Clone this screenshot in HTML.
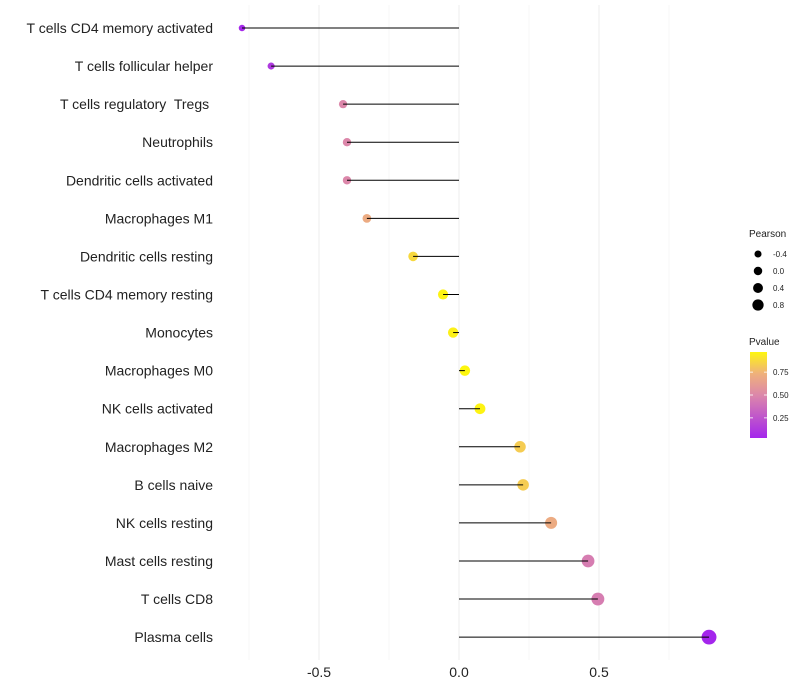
<!DOCTYPE html>
<html><head><meta charset="utf-8"><style>body{margin:0;background:#fff}svg{display:block;font-family:"Liberation Sans",sans-serif}text{white-space:pre}</style></head>
<body>
<svg id="chart" width="800" height="700"></svg>
<script>
const categories=["T cells CD4 memory activated","T cells follicular helper","T cells regulatory  Tregs ","Neutrophils","Dendritic cells activated","Macrophages M1","Dendritic cells resting","T cells CD4 memory resting","Monocytes","Macrophages M0","NK cells activated","Macrophages M2","B cells naive","NK cells resting","Mast cells resting","T cells CD8","Plasma cells"];
const pearson=[-0.775,-0.671,-0.414,-0.4,-0.4,-0.329,-0.164,-0.057,-0.021,0.021,0.075,0.218,0.229,0.329,0.461,0.496,0.893];
const pvalues=[0.04,0.12,0.5,0.5,0.5,0.7,0.87,0.96,0.95,0.97,0.96,0.83,0.83,0.7,0.45,0.45,0.03];
const xTicks=[-0.5,0,0.5];
const xMinor=[-0.75,-0.25,0.25,0.75];
const sizeLegend=[-0.4,0,0.4,0.8];
const pLegend=[0.25,0.5,0.75];
const NS="http://www.w3.org/2000/svg";
const svg=document.getElementById('chart');
const xs=v=>459+280*v;
const ys=i=>28+i*38.07;
const rs=v=>5.2+2.5*v;
const stops=[[0,[160,32,240]],[0.5,[220,135,170]],[0.75,[240,180,120]],[1,[255,255,0]]];
function col(p){let a=stops[0],b=stops[1];for(let k=0;k<stops.length-1;k++){if(p>=stops[k][0]){a=stops[k];b=stops[k+1];}}const t=Math.min(1,Math.max(0,(p-a[0])/(b[0]-a[0])));return 'rgb('+a[1].map((c,k)=>Math.round(c+(b[1][k]-c)*t)).join(',')+')';}
function el(t,at){const e=document.createElementNS(NS,t);for(const k in at)e.setAttribute(k,at[k]);svg.appendChild(e);return e;}
xMinor.forEach(v=>{const g=el('line',{x1:xs(v),x2:xs(v),y1:5,y2:660,stroke:'#f7f7f7','stroke-width':1});

});
xTicks.forEach(v=>{const g=el('line',{x1:xs(v),x2:xs(v),y1:5,y2:660,stroke:'#f0f0f0','stroke-width':1.2});


const t=el('text',{x:xs(v),y:677,'text-anchor':'middle','font-size':14,fill:'#222'});t.textContent=v===0?'0.0':String(v);

});
categories.forEach((c,i)=>{const y=ys(i);
const t=el('text',{x:213,y:y+5,'text-anchor':'end','font-size':14,fill:'#222'});t.textContent=c;


const p=el('circle',{cx:xs(pearson[i]),cy:y,r:Math.max(2,rs(pearson[i])),fill:col(pvalues[i])});


const l=el('line',{x1:xs(0),x2:xs(pearson[i]),y1:y,y2:y,stroke:'#000','stroke-width':1});

});
const lt=el('text',{x:749,y:237,'font-size':10,fill:'#222'});lt.textContent='Pearson';


sizeLegend.forEach((v,i)=>{const y=254+i*17;
const c=el('circle',{cx:758,cy:y,r:rs(v)*0.7+0.6,fill:'#000'});


const t=el('text',{x:773,y:y+3,'font-size':8,fill:'#222'});t.textContent=v===0?'0.0':String(v);

});
const pt=el('text',{x:749,y:345,'font-size':10,fill:'#222'});pt.textContent='Pvalue';


const defs=el('defs',{});const g=document.createElementNS(NS,'linearGradient');g.setAttribute('id','pg');g.setAttribute('x1','0');g.setAttribute('y1','1');g.setAttribute('x2','0');g.setAttribute('y2','0');defs.appendChild(g);
[0,0.2,0.4,0.5,0.6,0.75,0.9,1].forEach(o=>{const s=document.createElementNS(NS,'stop');s.setAttribute('offset',o);s.setAttribute('stop-color',col(0.03+o*0.94));g.appendChild(s);});
const bar=el('rect',{x:750,y:352,width:17,height:86,fill:'url(#pg)'});


const py=v=>438-(v-0.03)/0.94*86;
pLegend.forEach(v=>{const y=py(v);
const t=el('text',{x:773,y:y+3,'font-size':8,fill:'#222'});t.textContent=v.toFixed(2);


el('line',{x1:750,x2:753,y1:y,y2:y,stroke:'#fff','stroke-width':0.8});el('line',{x1:764,x2:767,y1:y,y2:y,stroke:'#fff','stroke-width':0.8});});
</script>
</body></html>
